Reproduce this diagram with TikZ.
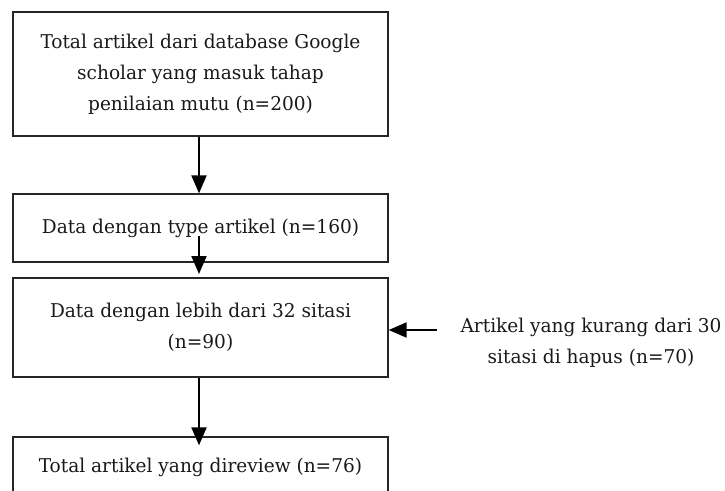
\documentclass[tikz,border=0pt]{standalone}
\usepackage{fontspec}
\setmainfont[FakeStretch=1.085]{DejaVu Serif Condensed}
\usetikzlibrary{arrows.meta}
\begin{document}
\begin{tikzpicture}[x=1pt,y=-1pt,
  box/.style={draw=black!85,line width=1.3pt,minimum width=375pt,inner sep=0pt},
  txt/.style={font=\fontsize{19}{31}\selectfont,text=black!90,align=center,inner sep=0pt},
  arr/.style={line width=2pt,-{Triangle[width=15pt,length=18pt]}}]
\useasboundingbox (0,0) rectangle (725,490);
\clip (0,0) rectangle (725,490);
\node[box,minimum height=124pt,txt] (b1) at (200.5,74) {Total artikel dari database Google\\scholar yang masuk tahap\\penilaian mutu (n=200)};
\node[box,minimum height=68pt,txt] (b2) at (200.5,228) {Data dengan type artikel (n=160)};
\node[box,minimum height=99pt,txt] (b3) at (200.5,327.5) {Data dengan lebih dari 32 sitasi\\(n=90)};
\node[box,minimum height=100pt] (b4) at (200.5,487) {};
\node[txt] (t4) at (200.5,467) {Total artikel yang direview (n=76)};
\node[txt] (side) at (591,343) {Artikel yang kurang dari 30\\sitasi di hapus (n=70)};
\coordinate (a2s) at (199,236);
\coordinate (a2e) at (199,274);
\draw[arr] (b1.south -| a2s) -- (b2.north -| a2s);
\draw[arr] (a2s) -- (a2e);
\draw[arr] (b3.south -| a2s) -- ([yshift=-9pt]b4.north -| a2s);
\coordinate (a4s) at (437,330);
\draw[arr] (a4s) -- (b3.east |- a4s);
\end{tikzpicture}
\end{document}
